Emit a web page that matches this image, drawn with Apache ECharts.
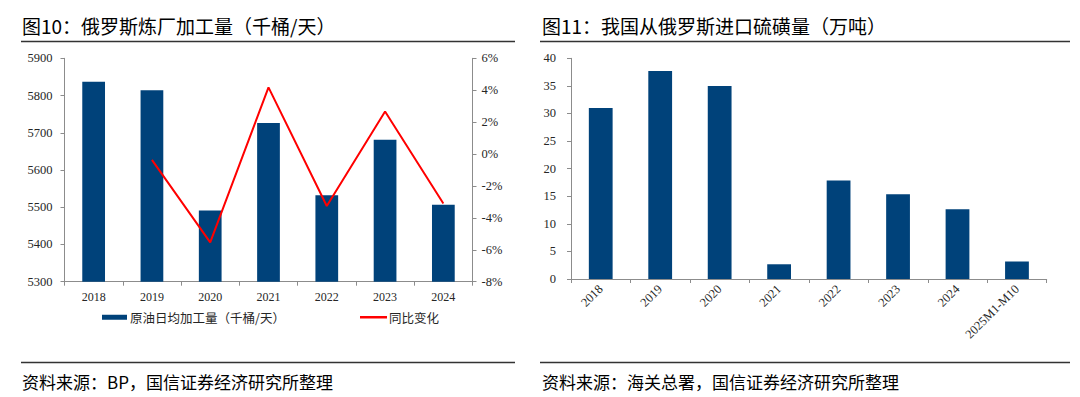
<!DOCTYPE html>
<html>
<head>
<meta charset="utf-8">
<script src="https://cdn.jsdelivr.net/npm/echarts@6/dist/echarts.min.js"></script>
<style>
html,body{margin:0;padding:0;background:#fff;}
#main{width:1080px;height:397px;}
</style>
</head>
<body>
<div id="main"></div>
<script>
// ---- Data ----
const years = ['2018', '2019', '2020', '2021', '2022', '2023', '2024'];
const refineryThroughput = [5837, 5814, 5491, 5726, 5532, 5681, 5507]; // 千桶/天
const yoyChange = [null, -0.37, -5.54, 4.18, -3.26, 2.67, -3.1];       // %
const leftTicks = { min: 5300, max: 5900, interval: 100 };
const rightTicks = { min: -8, max: 6, interval: 2 };

const sulfurCategories = ['2018', '2019', '2020', '2021', '2022', '2023', '2024', '2025M1-M10'];
const sulfurImports = [31.0, 37.7, 35.0, 2.67, 17.85, 15.36, 12.63, 3.16]; // 万吨
const sulfurTicks = { min: 0, max: 40, interval: 5 };

const title1 = '图10：俄罗斯炼厂加工量（千桶/天）';
const title2 = '图11：我国从俄罗斯进口硫磺量（万吨）';
const source1 = '资料来源：BP，国信证券经济研究所整理';
const source2 = '资料来源：海关总署，国信证券经济研究所整理';
const seriesName1 = '原油日均加工量（千桶/天）';
const seriesName2 = '同比变化';

// ---- Styles ----
const CJK = '"Noto Sans CJK SC", "Noto Sans", sans-serif';
const SERIF = '"Liberation Serif", "DejaVu Serif", serif';
const BAR = '#00427A';
const AXIS = '#8c8c8c';
const TXT = '#262626';

const chart = echarts.init(document.getElementById('main'), null, { renderer: 'svg' });

function rule(x1, x2, y) {
  return { type: 'line', shape: { x1: x1, y1: y, x2: x2, y2: y }, style: { stroke: '#333', lineWidth: 1.5 }, silent: true };
}
function txt(x, y, s, size) {
  return { type: 'text', x: x, y: y, style: { text: s, fontSize: size, fontFamily: CJK, fill: '#000', verticalAlign: 'middle', align: 'left' }, silent: true };
}

const axisLineStyle = { show: true, onZero: false, lineStyle: { color: AXIS, width: 1 } };
const tickStyle = { show: true, length: 4, lineStyle: { color: AXIS } };

chart.setOption({
  animation: false,
  backgroundColor: '#fff',
  graphic: [
    txt(22, 25, title1, 19),
    txt(542, 25, title2, 19),
    rule(21, 515, 41.5),
    rule(540, 1070, 41.5),
    rule(21, 515, 362.5),
    rule(540, 1070, 362.5),
    txt(22, 381, source1, 17),
    txt(542, 381, source2, 17)
  ],
  legend: [
    {
      data: [{ name: seriesName1, icon: 'rect' }],
      left: 97, top: 306,
      itemWidth: 25, itemHeight: 5, itemGap: 10,
      textStyle: { fontFamily: CJK, fontSize: 12.5, color: TXT, padding: [0, 0, 0, -2] },
      selectedMode: false
    },
    {
      data: [{ name: seriesName2, icon: 'rect' }],
      left: 355, top: 306,
      itemWidth: 27, itemHeight: 2.5,
      textStyle: { fontFamily: CJK, fontSize: 12.5, color: TXT, padding: [0, 0, 0, -3] },
      selectedMode: false
    }
  ],
  grid: [
    { left: 64.5, top: 58.3, width: 408, height: 223.4 },
    { left: 571, top: 58.3, width: 475.7, height: 220.7 }
  ],
  xAxis: [
    {
      type: 'category', gridIndex: 0, data: years,
      axisLine: axisLineStyle, axisTick: tickStyle,
      axisLabel: { fontFamily: SERIF, fontSize: 12, color: TXT, margin: 9 }
    },
    {
      type: 'category', gridIndex: 1, data: sulfurCategories,
      axisLine: axisLineStyle, axisTick: tickStyle,
      axisLabel: { fontFamily: SERIF, fontSize: 12.5, color: TXT, rotate: 45, margin: 8, interval: 0 }
    }
  ],
  yAxis: [
    {
      type: 'value', gridIndex: 0, position: 'left',
      min: leftTicks.min, max: leftTicks.max, interval: leftTicks.interval,
      axisLine: axisLineStyle, axisTick: tickStyle, splitLine: { show: false },
      axisLabel: { fontFamily: SERIF, fontSize: 12.5, color: TXT, margin: 12, formatter: function (v) { return String(v); } }
    },
    {
      type: 'value', gridIndex: 0, position: 'right',
      min: rightTicks.min, max: rightTicks.max, interval: rightTicks.interval,
      axisLine: axisLineStyle, axisTick: tickStyle, splitLine: { show: false },
      axisLabel: { fontFamily: SERIF, fontSize: 12.5, color: TXT, margin: 9, formatter: '{value}%' }
    },
    {
      type: 'value', gridIndex: 1, position: 'left',
      min: sulfurTicks.min, max: sulfurTicks.max, interval: sulfurTicks.interval,
      axisLine: axisLineStyle, axisTick: tickStyle, splitLine: { show: false },
      axisLabel: { fontFamily: SERIF, fontSize: 12.5, color: TXT, margin: 15 }
    }
  ],
  series: [
    {
      name: seriesName1, type: 'bar', xAxisIndex: 0, yAxisIndex: 0,
      data: refineryThroughput, barWidth: '39%',
      itemStyle: { color: BAR }
    },
    {
      name: seriesName2, type: 'line', xAxisIndex: 0, yAxisIndex: 1,
      data: yoyChange, showSymbol: false, symbol: 'none', connectNulls: false,
      lineStyle: { color: '#ff0000', width: 2 }, itemStyle: { color: '#ff0000' }
    },
    {
      name: '硫磺进口量', type: 'bar', xAxisIndex: 1, yAxisIndex: 2,
      data: sulfurImports, barWidth: '40%',
      itemStyle: { color: BAR }
    }
  ]
});
</script>
</body>
</html>
